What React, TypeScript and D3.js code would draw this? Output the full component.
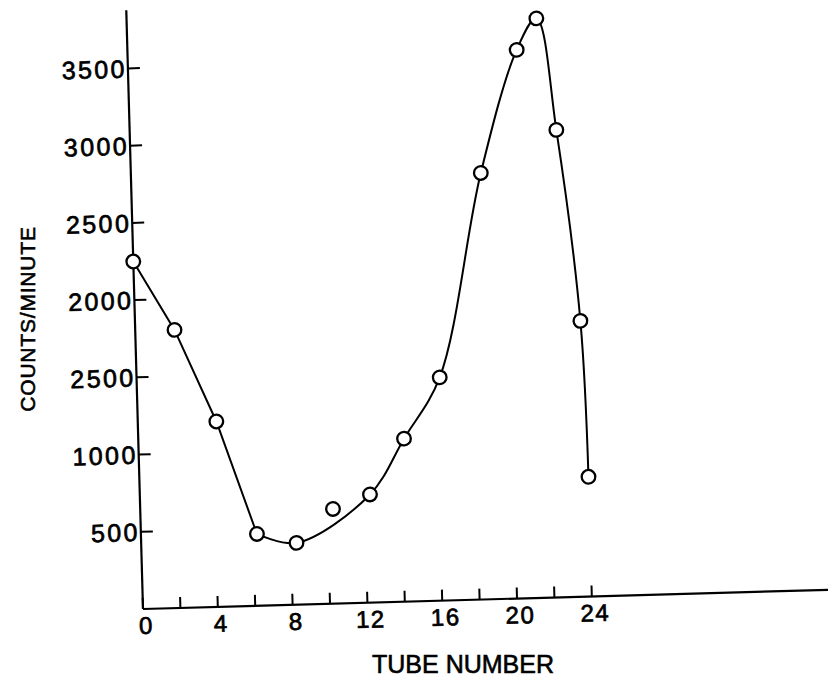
import { useEffect, useRef } from "react";
import * as d3 from "d3";

// tube number vs counts/minute
const tubes = [0, 2.1, 4.2, 6.2, 8.3, 10.3, 12.3, 14.2, 16.2, 18.7, 20.8, 21.9, 22.8, 23.8, 24];
const counts = [2250, 1800, 1200, 465, 400, 613, 700, 1055, 1445, 2760, 3550, 3750, 3025, 1785, 775];
// the straight part of the trace, then the smooth part (the point at 10 is off the curve)
const straightIdx = [0, 1, 2, 3];
const smoothIdx = [3, 4, 6, 7, 8, 9, 10, 11, 12, 13, 14];

const yTicks = [500, 1000, 1500, 2000, 2500, 3000, 3500];
const yTickLabels = ["500", "1000", "2500", "2000", "2500", "3000", "3500"];
const xTicks = [0, 2, 4, 6, 8, 10, 12, 14, 16, 18, 20, 22, 24];
const xTickLabels = ["0", "4", "8", "12", "16", "20", "24"];

export default function App() {
  const svgRef = useRef<SVGSVGElement>(null);
  const width = 828;
  const height = 684;
  const origin = { x: 143, y: 609 };
  const tilt = -1.6;

  useEffect(() => {
    document.body.style.margin = "0";
    if (!svgRef.current) return;
    const svg = d3.select(svgRef.current);
    svg.selectAll("*").remove();

    const x = d3.scaleLinear().domain([0, 24]).range([0, 449]);
    const y = d3.scaleLinear().domain([0, 3877]).range([0, -599]);

    const font = "'Liberation Sans', Arial, sans-serif";

    const g = svg
      .append("g")
      .attr("transform", `translate(${origin.x},${origin.y}) rotate(${tilt})`);

    // axes
    g.append("line")
      .attr("x1", 0).attr("y1", 0)
      .attr("x2", 0).attr("y2", y(3877))
      .attr("stroke", "#000").attr("stroke-width", 2.2);
    g.append("line")
      .attr("x1", 0).attr("y1", 0)
      .attr("x2", x(37)).attr("y2", 0)
      .attr("stroke", "#000").attr("stroke-width", 2.2);

    // y ticks point into the plot
    g.selectAll(".ytick")
      .data(yTicks)
      .enter()
      .append("line")
      .attr("x1", 0).attr("x2", 12)
      .attr("y1", (d) => y(d)).attr("y2", (d) => y(d))
      .attr("stroke", "#000").attr("stroke-width", 2);
    g.selectAll(".ylab")
      .data(yTicks)
      .enter()
      .append("text")
      .attr("x", -1)
      .attr("y", (d) => y(d))
      .attr("dy", "0.36em")
      .attr("text-anchor", "end")
      .attr("font-family", font)
      .attr("font-size", 25)
      .attr("letter-spacing", 2.4)
      .attr("stroke", "#000").attr("stroke-width", 0.7)
      .text((_, i) => yTickLabels[i]);

    // x ticks point up
    g.selectAll(".xtick")
      .data(xTicks)
      .enter()
      .append("line")
      .attr("x1", (d) => x(d)).attr("x2", (d) => x(d))
      .attr("y1", 0).attr("y2", -11)
      .attr("stroke", "#000").attr("stroke-width", 2);
    g.selectAll(".xlab")
      .data(xTicks.filter((d) => d % 4 === 0))
      .enter()
      .append("text")
      .attr("x", (d) => x(d) + 3)
      .attr("y", 25)
      .attr("text-anchor", "middle")
      .attr("font-family", font)
      .attr("font-size", 24)
      .attr("letter-spacing", 1.5)
      .attr("stroke", "#000").attr("stroke-width", 0.7)
      .text((_, i) => xTickLabels[i]);

    // trace
    const pts = tubes.map((t, i) => ({ t, c: counts[i] }));
    const straight = d3
      .line<(typeof pts)[0]>()
      .x((d) => x(d.t))
      .y((d) => y(d.c));
    const smooth = d3
      .line<(typeof pts)[0]>()
      .x((d) => x(d.t))
      .y((d) => y(d.c))
      .curve(d3.curveCatmullRom.alpha(0.5));

    g.append("path")
      .datum(straightIdx.map((i) => pts[i]))
      .attr("fill", "none").attr("stroke", "#000").attr("stroke-width", 2)
      .attr("d", straight);
    g.append("path")
      .datum(smoothIdx.map((i) => pts[i]))
      .attr("fill", "none").attr("stroke", "#000").attr("stroke-width", 2)
      .attr("d", smooth);

    g.selectAll(".dot")
      .data(pts)
      .enter()
      .append("circle")
      .attr("cx", (d) => x(d.t))
      .attr("cy", (d) => y(d.c))
      .attr("r", 6.8)
      .attr("fill", "#fff")
      .attr("stroke", "#000")
      .attr("stroke-width", 2.3);

    // axis titles
    svg.append("text")
      .attr("transform", "translate(35,319) rotate(-90)")
      .attr("text-anchor", "middle")
      .attr("font-family", font)
      .attr("font-size", 21)
      .attr("letter-spacing", 0.8)
      .attr("stroke", "#000").attr("stroke-width", 0.6)
      .text("COUNTS/MINUTE");
    svg.append("text")
      .attr("x", 463)
      .attr("y", 673)
      .attr("text-anchor", "middle")
      .attr("font-family", font)
      .attr("font-size", 25)
      .attr("stroke", "#000").attr("stroke-width", 0.6)
      .text("TUBE NUMBER");
  }, []);

  return (
    <svg
      ref={svgRef}
      width={width}
      height={height}
      style={{ display: "block", background: "#fff" }}
    ></svg>
  );
}
